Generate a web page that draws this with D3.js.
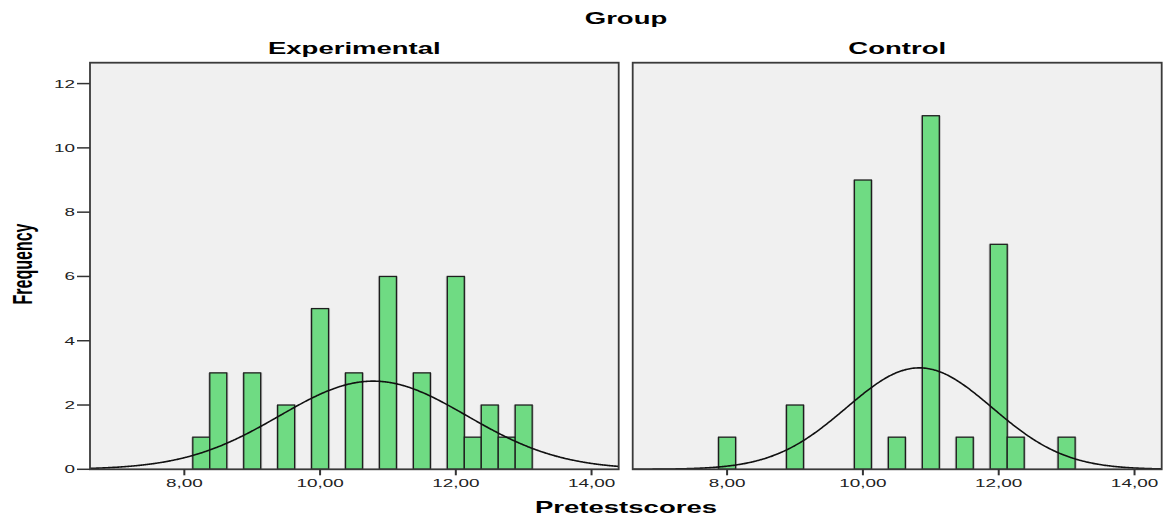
<!DOCTYPE html>
<html>
<head>
<meta charset="utf-8">
<script src="https://cdn.jsdelivr.net/npm/d3@7"></script>
<style>
  html, body { margin: 0; padding: 0; background: #ffffff; }
  svg { display: block; }
  text { font-family: "Liberation Sans", Arial, sans-serif; }
</style>
</head>
<body>
<div id="chart"></div>
<script>
// ---------------- data ----------------
const chartTitle = "Group";
const xTitle = "Pretestscores";
const yTitle = "Frequency";
const groups = ["Experimental", "Control"];
const expScores = [8.25, 8.5, 9, 9.5, 10, 10.5, 11, 11.5, 12, 12.25, 12.5, 12.75, 13];
const expFreq   = [1, 3, 3, 2, 5, 3, 6, 3, 6, 1, 2, 1, 2];
const ctrlScores = [8, 9, 10, 10.5, 11, 11.5, 12, 12.25, 13];
const ctrlFreq   = [1, 2, 9, 1, 11, 1, 7, 1, 1];
const binWidth = 0.25;
const xTickValues = [8, 10, 12, 14];
const xTickLabels = ["8,00", "10,00", "12,00", "14,00"];
const yTickValues = [0, 2, 4, 6, 8, 10, 12];
const xDomain = [6.61, 14.40];
const yDomain = [0, 12.65];

// ---------------- layout ----------------
const W = 1163, H = 516;
const SX = 1.72;           // horizontal stretch of the original picture
const plotTop = 62.7, plotBottom = 469.3;
const panelX = [[90, 618.7], [632.7, 1161.7]];
const barFill = "#6fdb83";

const svg = d3.select("#chart").append("svg")
  .attr("width", W).attr("height", H);

function stretchedText(x, y, str, opts) {
  const t = svg.append("text")
    .attr("transform", `translate(${x},${y}) scale(${SX},1)` + (opts.rotate ? ` rotate(${opts.rotate})` : ""))
    .attr("text-anchor", opts.anchor || "middle")
    .attr("font-size", opts.size)
    .attr("font-weight", opts.weight || "normal")
    .attr("fill", opts.fill || "#000")
    .text(str);
  return t;
}

const y = d3.scaleLinear().domain(yDomain).range([plotBottom, plotTop]);

const seriesData = [
  { name: groups[0], scores: expScores, freq: expFreq },
  { name: groups[1], scores: ctrlScores, freq: ctrlFreq }
];

seriesData.forEach((s, i) => {
  const [x0, x1] = panelX[i];
  const x = d3.scaleLinear().domain(xDomain).range([x0, x1]);
  const g = svg.append("g");

  const clipId = "clip" + i;
  svg.append("clipPath").attr("id", clipId)
    .append("rect").attr("x", x0).attr("y", plotTop).attr("width", x1 - x0).attr("height", plotBottom - plotTop);

  // background
  g.append("rect")
    .attr("x", x0).attr("y", plotTop).attr("width", x1 - x0).attr("height", plotBottom - plotTop)
    .attr("fill", "#f0f0f0");

  // bars
  const bars = s.scores.map((v, k) => ({ v, f: s.freq[k] }));
  g.selectAll("rect.shadow").data(bars).enter().append("rect")
    .attr("class", "shadow")
    .attr("x", d => x(d.v - binWidth / 2) - 1.5)
    .attr("y", d => y(d.f))
    .attr("width", d => x(d.v + binWidth / 2) - x(d.v - binWidth / 2) + 3)
    .attr("height", d => y(0) - y(d.f))
    .attr("fill", "#9a9a9a").attr("opacity", 0.6);
  g.selectAll("rect.bar").data(bars).enter().append("rect")
    .attr("class", "bar")
    .attr("x", d => x(d.v - binWidth / 2))
    .attr("y", d => y(d.f))
    .attr("width", d => x(d.v + binWidth / 2) - x(d.v - binWidth / 2))
    .attr("height", d => y(0) - y(d.f))
    .attr("fill", barFill)
    .attr("stroke", "#1e1e1e").attr("stroke-width", 1.3);

  // normal curve fitted to the group's data
  const n = d3.sum(s.freq);
  const mean = d3.sum(bars, d => d.v * d.f) / n;
  const sd = Math.sqrt(d3.sum(bars, d => d.f * (d.v - mean) ** 2) / (n - 1));
  const pts = d3.range(xDomain[0], xDomain[1] + 0.001, 0.02).map(t => [
    t, n * binWidth * Math.exp(-0.5 * ((t - mean) / sd) ** 2) / (sd * Math.sqrt(2 * Math.PI))
  ]);
  g.append("path")
    .attr("clip-path", `url(#${clipId})`)
    .attr("d", d3.line().x(d => x(d[0])).y(d => y(d[1])).curve(d3.curveBasis)(pts))
    .attr("fill", "none").attr("stroke", "#111").attr("stroke-width", 1.6);

  // frame
  g.append("rect")
    .attr("x", x0).attr("y", plotTop).attr("width", x1 - x0).attr("height", plotBottom - plotTop)
    .attr("fill", "none").attr("stroke", "#3a3a3a").attr("stroke-width", 1.8);

  // x ticks
  xTickValues.forEach((v, k) => {
    g.append("line")
      .attr("x1", x(v)).attr("x2", x(v)).attr("y1", plotBottom).attr("y2", plotBottom + 6)
      .attr("stroke", "#333").attr("stroke-width", 2);
    stretchedText(x(v), 487, xTickLabels[k], { size: 11, fill: "#222" });
  });

  // panel title
  stretchedText((x0 + x1) / 2, 54, s.name, { size: 16, weight: "bold" });
});

// y axis (left panel only)
yTickValues.forEach(v => {
  svg.append("line")
    .attr("x1", panelX[0][0] - 13).attr("x2", panelX[0][0]).attr("y1", y(v)).attr("y2", y(v))
    .attr("stroke", "#333").attr("stroke-width", 1.5);
  stretchedText(panelX[0][0] - 15, y(v) + 4, String(v), { size: 11, anchor: "end", fill: "#222" });
});

// titles
stretchedText(626, 23.5, chartTitle, { size: 16, weight: "bold" });
stretchedText(626, 513, xTitle, { size: 16, weight: "bold" });
stretchedText(32, 264, yTitle, { size: 16, weight: "bold", rotate: -90 });
</script>
</body>
</html>
